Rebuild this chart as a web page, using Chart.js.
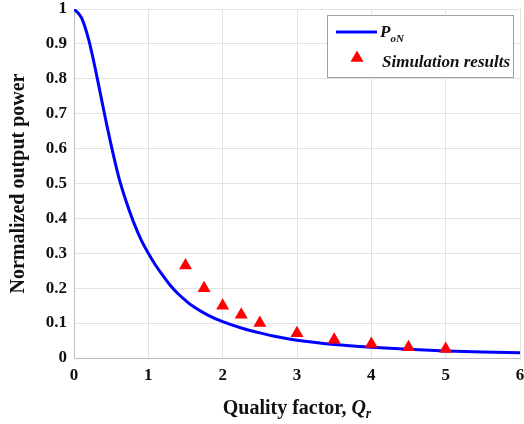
<!DOCTYPE html>
<html>
<head>
<meta charset="utf-8">
<title>Normalized output power</title>
<script src="https://cdn.jsdelivr.net/npm/chart.js@4.4.0/dist/chart.umd.min.js"></script>
<style>
  html, body { margin: 0; padding: 0; background: #fff; }
  #wrap { width: 524px; height: 424px; }
</style>
</head>
<body>
<div id="wrap"><canvas id="chart" width="524" height="424"></canvas></div>
<script>
// Analytical curve P_oN
const curveQ = [0, 0.1, 0.2, 0.3, 0.4, 0.5, 0.6, 0.7, 0.8, 0.9, 1.0, 1.1, 1.2, 1.3, 1.4, 1.5, 1.6, 1.8, 2.0, 2.25, 2.5, 2.75, 3.0, 3.5, 4.0, 4.5, 5.0, 5.5, 6.0];
const curveP = [1, 0.975, 0.91, 0.815, 0.71, 0.61, 0.52, 0.45, 0.39, 0.34, 0.30, 0.265, 0.235, 0.207, 0.184, 0.165, 0.148, 0.123, 0.104, 0.086, 0.072, 0.06, 0.051, 0.039, 0.031, 0.025, 0.02, 0.017, 0.015];

// Simulation points
const simQ = [1.5, 1.75, 2, 2.25, 2.5, 3, 3.5, 4, 4.5, 5];
const simP = [0.265, 0.2, 0.15, 0.124, 0.1, 0.071, 0.052, 0.04, 0.031, 0.026];

const xTicks = [0, 1, 2, 3, 4, 5, 6];
const yTicks = [0, 0.1, 0.2, 0.3, 0.4, 0.5, 0.6, 0.7, 0.8, 0.9, 1];

const serif = "'Liberation Serif', 'Times New Roman', serif";
const blue = '#0000ff';
const red = '#ff0000';

function toPoints(xs, ys) {
    return xs.map((x, i) => ({ x: x, y: ys[i] }));
}

// axis titles and the boxed legend, drawn by hand for the sub/italic bits
const extras = {
    id: 'extras',
    afterDraw(chart) {
        const ctx = chart.ctx;
        const area = chart.chartArea;
        ctx.save();
        ctx.fillStyle = '#111';

        // y title
        ctx.save();
        ctx.translate(19, (area.top + area.bottom) / 2);
        ctx.rotate(-Math.PI / 2);
        ctx.textAlign = 'center';
        ctx.textBaseline = 'middle';
        ctx.font = 'bold 20px ' + serif;
        ctx.fillText('Normalized output power', 0, 0);
        ctx.restore();

        // x title: "Quality factor, Q_r"
        ctx.textBaseline = 'alphabetic';
        ctx.textAlign = 'left';
        const part1 = 'Quality factor, ';
        ctx.font = 'bold 20px ' + serif;
        const w1 = ctx.measureText(part1).width;
        ctx.font = 'bold italic 20px ' + serif;
        const w2 = ctx.measureText('Q').width;
        ctx.font = 'bold italic 14px ' + serif;
        const w3 = ctx.measureText('r').width;
        let x0 = (area.left + area.right) / 2 - (w1 + w2 + w3) / 2;
        ctx.font = 'bold 20px ' + serif;
        ctx.fillText(part1, x0, 414);
        ctx.font = 'bold italic 20px ' + serif;
        ctx.fillText('Q', x0 + w1, 414);
        ctx.font = 'bold italic 14px ' + serif;
        ctx.fillText('r', x0 + w1 + w2, 418);

        // legend box
        ctx.fillStyle = '#fff';
        ctx.fillRect(327.5, 15.5, 186, 62);
        ctx.strokeStyle = '#a0a0a0';
        ctx.lineWidth = 1;
        ctx.strokeRect(327.5, 15.5, 186, 62);

        ctx.strokeStyle = blue;
        ctx.lineWidth = 3;
        ctx.beginPath();
        ctx.moveTo(336, 32);
        ctx.lineTo(377, 32);
        ctx.stroke();

        ctx.fillStyle = '#111';
        ctx.font = 'bold italic 17px ' + serif;
        ctx.fillText('P', 380, 37);
        const pw = ctx.measureText('P').width;
        ctx.font = 'bold italic 11px ' + serif;
        ctx.fillText('oN', 380 + pw, 42);

        ctx.fillStyle = red;
        ctx.beginPath();
        ctx.moveTo(357, 50.5);
        ctx.lineTo(363.5, 61.75);
        ctx.lineTo(350.5, 61.75);
        ctx.closePath();
        ctx.fill();

        ctx.fillStyle = '#111';
        ctx.font = 'bold italic 17px ' + serif;
        ctx.fillText('Simulation results', 382, 67);
        ctx.restore();
    }
};

const ctx = document.getElementById('chart');
new Chart(ctx, {
    type: 'scatter',
    data: {
        datasets: [
            {
                label: 'P_oN',
                data: toPoints(curveQ, curveP),
                showLine: true,
                borderColor: blue,
                borderWidth: 3,
                pointRadius: 0,
                cubicInterpolationMode: 'monotone',
                order: 2
            },
            {
                label: 'Simulation results',
                data: toPoints(simQ, simP),
                showLine: false,
                pointStyle: 'triangle',
                pointRadius: 7.5,
                backgroundColor: red,
                borderColor: red,
                borderWidth: 0,
                order: 1
            }
        ]
    },
    options: {
        responsive: false,
        animation: false,
        layout: { autoPadding: false, padding: { top: 9, right: 4, left: 0, bottom: 0 } },
        plugins: {
            legend: { display: false },
            tooltip: { enabled: false }
        },
        scales: {
            x: {
                type: 'linear',
                min: 0,
                max: 6,
                afterBuildTicks: scale => { scale.ticks = xTicks.map(v => ({ value: v })); },
                afterFit: scale => {
                    scale.height = 66;
                    scale.paddingLeft = 0;
                    scale.paddingRight = 0;
                },
                grid: { color: '#e2e2e2', lineWidth: 1, drawTicks: false },
                border: { color: '#bdbdbd', width: 1 },
                ticks: {
                    padding: 7,
                    color: '#111',
                    font: { family: serif, size: 17, weight: 'bold' },
                    maxRotation: 0
                }
            },
            y: {
                type: 'linear',
                min: 0,
                max: 1,
                afterBuildTicks: scale => { scale.ticks = yTicks.map(v => ({ value: v })); },
                afterFit: scale => {
                    scale.width = 74;
                    scale.paddingTop = 0;
                    scale.paddingBottom = 0;
                },
                grid: { color: '#e2e2e2', lineWidth: 1, drawTicks: false },
                border: { color: '#bdbdbd', width: 1 },
                ticks: {
                    padding: 7,
                    color: '#111',
                    font: { family: serif, size: 17, weight: 'bold' },
                    callback: v => (v === 0 || v === 1) ? String(v) : v.toFixed(1)
                }
            }
        }
    },
    plugins: [extras]
});
</script>
</body>
</html>
